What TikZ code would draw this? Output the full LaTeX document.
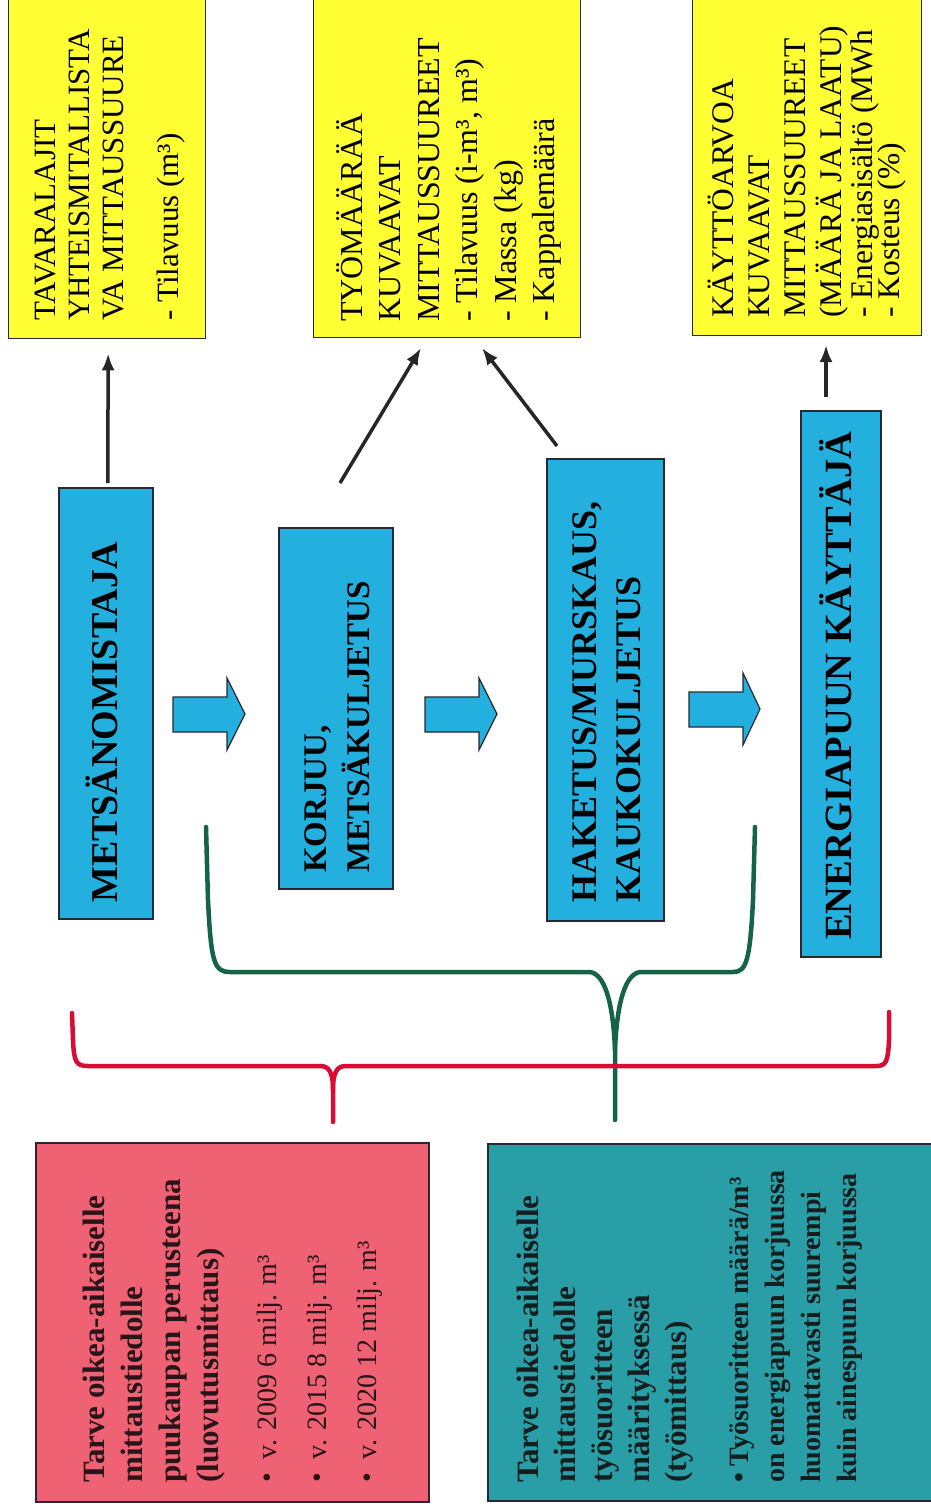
\documentclass[tikz,border=0pt]{standalone}
\usepackage{fontspec}
\setmainfont{Liberation Serif}
\usetikzlibrary{arrows.meta,calc}
\definecolor{ycol}{RGB}{255,255,51}
\definecolor{bcol}{RGB}{36,176,222}
\definecolor{pcol}{RGB}{238,98,116}
\definecolor{tcol}{RGB}{42,158,166}
\definecolor{gcol}{RGB}{22,100,72}
\definecolor{rcol}{RGB}{216,12,52}
\definecolor{edge}{RGB}{40,40,50}
\begin{document}
\begin{tikzpicture}[x=1pt,y=-1pt,
  box/.style={rectangle, inner sep=0pt, anchor=north west},
  ybox/.style={box, draw=edge, fill=ycol, line width=1.3pt},
  bbox/.style={box, draw=edge, fill=bcol, line width=1.6pt},
  pbox/.style={box, draw=edge, fill=pcol, line width=1.6pt},
  tbox/.style={box, draw=edge, fill=tcol, line width=1.6pt},
  rtext/.style={rotate=90, anchor=north west, align=left, inner sep=0pt, text=black},
  barrow/.style={fill=bcol, draw=edge, line width=1.2pt, line join=miter},
  arr/.style={line width=3.5pt, draw=black!85, -{Latex[length=17pt,width=13pt]}},
  rbrace/.style={draw=rcol, line width=4.5pt, line cap=round, line join=round},
  gbrace/.style={draw=gcol, line width=4.5pt, line cap=round, line join=round}]
\useasboundingbox (0,0) rectangle (930,1512);

% yellow boxes
\node[ybox, minimum width=197pt, minimum height=343pt] (y1) at (8,-5) {};
\node[ybox, minimum width=267pt, minimum height=342pt] (y2) at (313,-5) {};
\node[ybox, minimum width=229pt, minimum height=340pt] (y3) at (692,-5) {};

\node[rtext, font=\fontsize{31}{34}\selectfont] (y1t) at (35,321)
  {TAVARALAJIT\\YHTEISMITALLISTA\\VA MITTAUSSUURE\\[21pt]- Tilavuus (m³)};
\node[rtext, font=\fontsize{32}{38.5}\selectfont] (y2t) at (336,322)
  {TYÖMÄÄRÄÄ\\KUVAAVAT\\MITTAUSSUUREET\\- Tilavuus (i-m³, m³)\\- Massa (kg)\\- Kappalemäärä};
\node[rtext, font=\fontsize{31.5}{36}\selectfont] (y3t) at (708,318)
  {KÄYTTÖARVOA\\KUVAAVAT\\MITTAUSSUUREET\\(MÄÄRÄ JA LAATU)\\[-5pt]- Energiasisältö (MWh\\[-9pt]- Kosteus (\%)};

% blue boxes
\node[bbox, minimum width=94pt, minimum height=431pt] (m1) at (58,487) {};
\node[bbox, minimum width=114pt, minimum height=361pt] (k1) at (278,527) {};
\node[bbox, minimum width=117pt, minimum height=462pt] (h1) at (546,458) {};
\node[bbox, minimum width=80pt, minimum height=546pt] (e1) at (800,410) {};

\node[rtext, font=\bfseries\fontsize{38}{44}\selectfont] (m1t) at (86,903) {METSÄNOMISTAJA};
\node[rtext, font=\bfseries\fontsize{33}{43}\selectfont] (k1t) at (304,873) {KORJUU,\\METSÄKULJETUS};
\node[rtext, font=\bfseries\fontsize{36}{44}\selectfont] (h1t) at (572,903) {HAKETUS/MURSKAUS,\\KAUKOKULJETUS};
\node[rtext, font=\bfseries\fontsize{38.5}{44}\selectfont] (e1t) at (819,940) {ENERGIAPUUN KÄYTTÄJÄ};

% block arrows
\draw[barrow] (173,697) -- (227,697) -- (227,678) -- (245,714) -- (227,750) -- (227,732) -- (173,732) -- cycle;
\draw[barrow] (425,697) -- (479,697) -- (479,678) -- (497,714) -- (479,750) -- (479,732) -- (425,732) -- cycle;
\draw[barrow] (689,692) -- (743,692) -- (743,673) -- (760,709) -- (743,745) -- (743,727) -- (689,727) -- cycle;

% thin arrows
\coordinate (a2s) at (340,483);
\coordinate (a2e) at (421,348);
\coordinate (a3s) at (557,446);
\coordinate (a3e) at (482,348);
\coordinate (a4s) at (826,397);
\coordinate (a4e) at (826,345);
\draw[arr] ($(m1.north)+(2,-4)$) -- ($(y1.south)+(1,14)$);
\draw[arr] (a2s) -- (a2e);
\draw[arr] (a3s) -- (a3e);
\draw[arr] (a4s) -- (a4e);

% green brace
\draw[gbrace] (206,827) -- (208,900) .. controls (211,962) and (214,972) .. (230,972) -- (590,972)
  .. controls (604,974) and (613,1000) .. (615,1050) -- (615,1120);
\draw[gbrace] (755,827) -- (753,900) .. controls (750,962) and (746,972) .. (733,972) -- (640,972)
  .. controls (626,974) and (617,1000) .. (615,1050);

% red brace
\draw[rbrace] (72,1013) -- (73,1040) .. controls (74,1062) and (76,1066) .. (88,1066) -- (320,1066)
  .. controls (329,1066) and (333,1072) .. (333,1090) -- (333,1122);
\draw[rbrace] (889,1012) -- (889,1040) .. controls (888,1062) and (886,1066) .. (876,1066) -- (346,1066)
  .. controls (337,1066) and (333,1072) .. (333,1090);

% bottom boxes
\node[pbox, minimum width=393pt, minimum height=359pt] (pb) at (35,1142) {};
\node[tbox, minimum width=450pt, minimum height=357pt] (tb) at (487,1143) {};

\node[rtext, font=\bfseries\fontsize{31}{38}\selectfont, text={rgb,255:red,40;green,20;blue,25}] (pbt) at (83,1483)
  {Tarve oikea-aikaiselle\\mittaustiedolle\\puukaupan perusteena\\(luovutusmittaus)};
\node[rtext, font=\fontsize{28}{50}\selectfont, text={rgb,255:red,40;green,20;blue,25}] (pbb) at (257,1483)
  {• \ v. 2009 6 milj. m³\\• \ v. 2015 8 milj. m³\\• \ v. 2020 12 milj. m³};
\node[rtext, font=\bfseries\fontsize{31}{37}\selectfont, text={rgb,255:red,20;green,30;blue,30}] (tbt) at (517,1483)
  {Tarve oikea-aikaiselle\\mittaustiedolle\\työsuoritteen\\määrityksessä\\(työmittaus)};
\node[rtext, font=\bfseries\fontsize{28}{36}\selectfont, text={rgb,255:red,20;green,30;blue,30}] (tbb) at (729,1483)
  {• Työsuoritteen määrä/m³\\on energiapuun korjuussa\\huomattavasti suurempi\\kuin ainespuun korjuussa};
\end{tikzpicture}
\end{document}
